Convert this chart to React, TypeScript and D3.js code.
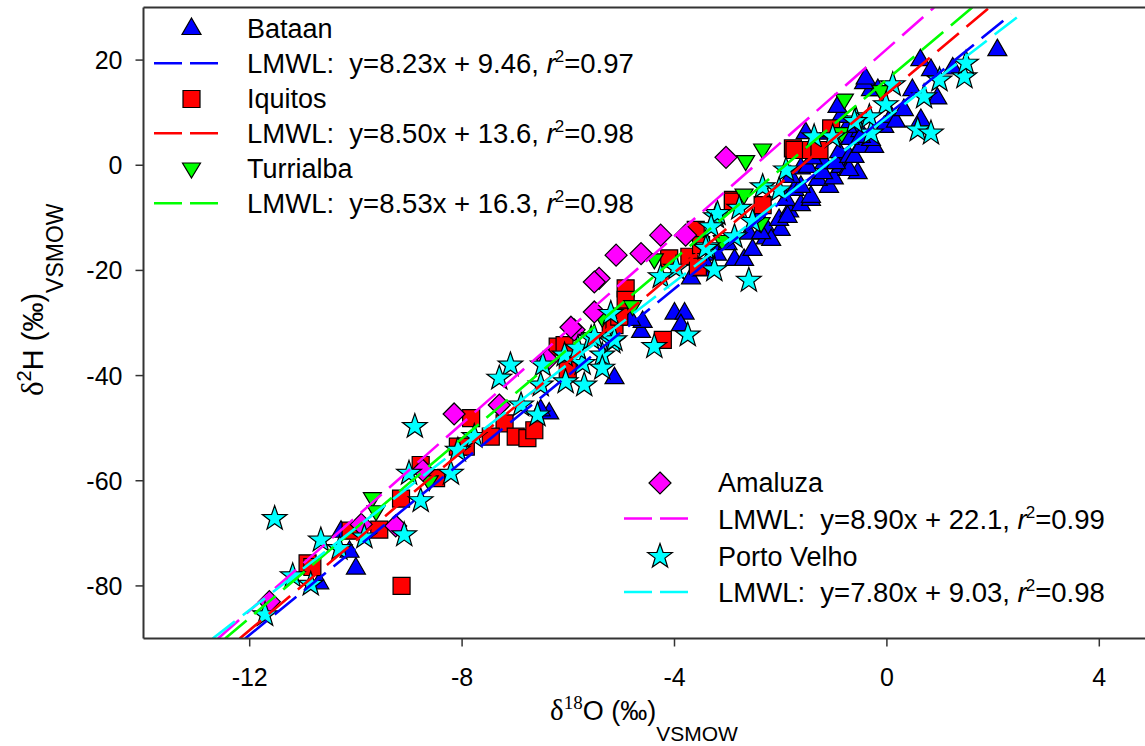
import React from "react";
import * as d3 from "d3";

// ---------- data (δ18O, δ2H) ----------
const bataan: [number, number][] = [
  [-10.0, -76.7], [-10.69, -79.5], [-10.28, -69.7], [-10.12, -73.5],
  [-6.36, -47.2], [-6.52, -46.6], [-5.13, -40.5],
  [-4.63, -31.7], [-4.6, -29.8], [-4.82, -29.4], [-4.0, -28.2], [-3.81, -28.2], [-3.88, -30.4],
  [-3.69, -21.5], [-3.5, -20.0], [-3.2, -17.0], [-3.4, -19.0], [-3.0, -15.0], [-2.87, -18.0],
  [-2.69, -18.0], [-2.53, -16.1], [-2.28, -13.9], [-2.6, -13.0], [-2.4, -10.0], [-2.25, -12.3],
  [-2.0, -12.3], [-2.03, -10.4], [-2.18, -14.2], [-2.37, -12.9],
  [-1.84, -8.8], [-1.87, -9.8], [-1.9, -6.6], [-1.62, -7.6], [-1.43, -6.6], [-1.43, -6.0],
  [-1.74, -4.7], [-1.62, -4.1], [-1.09, -4.1],
  [-1.81, -2.2], [-1.3, -2.8], [-1.0, -2.5], [-1.62, -0.6], [-1.49, -0.3], [-1.2, -1.5],
  [-0.87, -0.3], [-0.74, -0.9], [-0.55, -1.5], [-0.71, -0.9],
  [-1.18, 0.4], [-0.96, 0.4], [-1.4, 1.3], [-1.34, 2.3], [-0.9, 2.5], [-0.71, 1.6], [-0.61, 1.6],
  [-0.49, 3.5], [-0.24, 3.5], [-0.3, 4.8], [-0.7, 5.0], [-1.1, 6.0], [-1.53, 6.1], [-0.5, 6.5],
  [-0.49, 5.4], [-0.74, 7.3], [-0.05, 7.3],
  [-0.87, 9.2], [0.08, 9.2], [0.17, 8.3], [0.64, 8.6], [0.32, 10.5], [-0.93, 11.1],
  [0.95, 12.7], [0.48, 14.3], [-0.3, 14.3], [-0.17, 14.3], [-0.43, 15.6], [-0.4, 16.5],
  [0.63, 20.0], [0.83, 18.1], [1.24, 18.4], [2.08, 21.9],
];

const iquitos: [number, number][] = [
  [-9.14, -80.0], [-10.91, -75.7], [-10.82, -76.4], [-10.1, -69.5], [-9.56, -69.3],
  [-9.15, -63.4], [-8.78, -57.0], [-8.49, -59.5], [-8.08, -53.5], [-7.93, -53.5],
  [-7.83, -48.1], [-7.2, -49.1], [-7.46, -51.6], [-6.99, -51.6], [-6.77, -51.9], [-6.64, -50.4],
  [-6.2, -34.5], [-6.07, -34.2], [-6.01, -39.0], [-5.2, -30.1], [-5.13, -30.4],
  [-4.92, -23.4], [-4.92, -25.6], [-5.04, -28.8], [-4.22, -33.2], [-4.1, -17.7], [-3.72, -17.4],
  [-3.6, -12.3], [-3.5, -15.2], [-3.56, -19.3],
  [-2.9, -6.6], [-2.9, -6.9], [-2.34, -7.6],
  [-1.77, 3.2], [-1.74, 2.9], [-1.43, 2.9], [-1.27, 2.9], [-1.05, 7.0],
];

const turrialba: [number, number][] = [
  [-9.69, -63.4], [-9.62, -65.9], [-8.62, -60.2], [-5.36, -29.1], [-4.79, -26.9],
  [-4.38, -18.0], [-3.1, -14.5], [-2.69, -5.7], [-2.37, -11.1], [-2.66, 0.7],
  [-2.34, 2.9], [-0.8, 12.4], [-0.85, 6.0], [-0.11, 14.0],
];

const amaluza: [number, number][] = [
  [-11.63, -83.0], [-9.9, -68.3], [-9.25, -68.6], [-8.74, -58.0], [-8.15, -47.3],
  [-7.3, -45.6], [-6.39, -37.0], [-5.89, -31.3], [-5.95, -30.8], [-5.51, -27.9],
  [-5.42, -21.5], [-5.51, -22.2], [-5.1, -17.1], [-4.63, -16.8], [-4.26, -13.3],
  [-3.79, -13.3], [-3.03, 1.5],
];

const portoVelho: [number, number][] = [
  [-8.89, -49.7], [-11.53, -67.2], [-11.71, -85.5], [-11.19, -78.1], [-10.85, -79.7],
  [-10.66, -71.3], [-10.31, -72.9], [-9.84, -70.7], [-9.09, -70.3], [-8.78, -63.8],
  [-9.0, -58.6], [-8.21, -58.6], [-8.08, -54.2],
  [-7.09, -38.0], [-7.3, -40.5], [-6.89, -45.6], [-6.58, -47.5], [-7.77, -51.6],
  [-6.48, -38.0], [-6.52, -41.8], [-6.05, -41.2], [-5.7, -41.8], [-5.73, -37.7],
  [-6.07, -36.1], [-5.82, -34.8], [-5.57, -32.9], [-5.36, -36.1], [-5.36, -38.6],
  [-5.17, -33.6], [-5.2, -28.2],
  [-5.51, -32.6], [-5.13, -33.2], [-4.38, -34.5], [-3.75, -32.3], [-3.97, -19.6],
  [-4.26, -21.2], [-3.38, -15.5], [-3.25, -19.9], [-3.22, -9.8], [-2.87, -13.6], [-2.6, -21.9],
  [-1.9, -0.9], [-2.34, -4.1], [-2.03, -4.7], [-1.37, 5.4], [-1.02, 5.4], [-0.58, 8.6],
  [-0.3, 6.1], [-3.19, -9.2], [-2.78, -8.2], [-2.53, -10.7], [-3.31, -11.7], [-3.41, -15.8],
  [0.11, 15.3], [0.99, 16.2], [1.46, 16.8], [1.49, 19.4], [0.7, 13.0], [-0.02, 11.5],
  [-0.33, 9.2], [-0.61, 8.3], [0.58, 6.7], [0.83, 6.1],
];

// LMWL fits: slope, intercept, r², end of line (δ18O)
const fitNames = ["Bataan", "Iquitos", "Turrialba", "Amaluza", "Porto Velho"];
const fitSlopes = [8.23, 8.5, 8.53, 8.9, 7.8];
const fitIntercepts = [9.46, 13.6, 16.3, 22.1, 9.03];
const fitR2 = ["0.97", "0.98", "0.98", "0.99", "0.98"];
const fitLabels = ["8.23x + 9.46", "8.50x + 13.6", "8.53x + 16.3", "8.90x + 22.1", "7.80x + 9.03"];
const fitXEnd = [2.34, 3, 3, 3, 2.5];

const xTicks = [-12, -8, -4, 0, 4];
const yTicks = [-80, -60, -40, -20, 0, 20];

const colors = ["#0000FF", "#FF0000", "#00FF00", "#FF00FF", "#00FFFF"];
const seriesData = [bataan, iquitos, turrialba, amaluza, portoVelho];

// ---------- layout ----------
const W = 1145, H = 746;
const L = 143.5, T = 7.5, B = 638.5;
const x = d3.scaleLinear().domain([-14, 5]).range([L, L + 19 * 53.1]);
const y = d3.scaleLinear().domain([-90, 30]).range([B, T]);

const ARIAL = "'Liberation Sans', Arial, Helvetica, sans-serif";
const TIMES = "'Liberation Serif', 'Times New Roman', serif";

function starPath(R: number, r: number) {
  const pts: string[] = [];
  for (let k = 0; k < 10; k++) {
    const a = (-90 + k * 36) * Math.PI / 180;
    const rr = k % 2 === 0 ? R : r;
    pts.push(`${(rr * Math.cos(a)).toFixed(2)},${(rr * Math.sin(a)).toFixed(2)}`);
  }
  return "M" + pts.join("L") + "Z";
}
const shapes = [
  "M0,-11L9.5,5.5L-9.5,5.5Z",
  "M-8.5,-8.5H8.5V8.5H-8.5Z",
  "M0,9L9,-6L-9,-6Z",
  "M0,-11L11,0L0,11L-11,0Z",
  starPath(13, 5.2),
];

function Marker({ i, cx, cy }: { i: number; cx: number; cy: number }) {
  return (
    <path d={shapes[i]} transform={`translate(${cx},${cy})`} fill={colors[i]} stroke="#000" strokeWidth={1.2} />
  );
}

function LmwlText({ i, tx, ty }: { i: number; tx: number; ty: number }) {
  return (
    <text x={tx} y={ty} fontFamily={ARIAL} fontSize={27.5} fill="#000" style={{ whiteSpace: "pre" }}>
      {`LMWL:  y=${fitLabels[i]}, `}
      <tspan fontStyle="italic">r</tspan>
      <tspan fontSize={17} dy={-11} dx={-1}>2</tspan>
      <tspan dy={11}>{`=${fitR2[i]}`}</tspan>
    </text>
  );
}

export default function App() {
  const lineGen = d3.line<[number, number]>().x(d => x(d[0])).y(d => y(d[1]));
  const fitLines = fitSlopes.map((m, i) => {
    const b = fitIntercepts[i];
    const x0 = (-90 - b) / m;
    const x1 = Math.min(fitXEnd[i], (30 - b) / m);
    return lineGen([[x0, m * x0 + b], [x1, m * x1 + b]]);
  });

  const leftRows = [0, 1, 2];
  const rightRows = [3, 4];

  return (
    <svg width={W} height={H} style={{ position: "absolute", left: 0, top: 0, background: "#fff" }}>
      <defs>
        <clipPath id="plotClip">
          <rect x={L} y={T} width={W - L} height={B - T} />
        </clipPath>
      </defs>

      {/* scatter */}
      {seriesData.map((pts, i) => (
        <g key={"s" + i}>
          {pts.map((p, j) => <Marker key={j} i={i} cx={x(p[0])} cy={y(p[1])} />)}
        </g>
      ))}

      {/* fit lines */}
      <g clipPath="url(#plotClip)">
        {fitLines.map((d, i) => (
          <path key={"f" + i} d={d || ""} fill="none" stroke={colors[i]} strokeWidth={2.6} strokeDasharray="28 10" />
        ))}
      </g>

      {/* axes frame */}
      <line x1={L} x2={L} y1={T} y2={B} stroke="#333" strokeWidth={2} />
      <line x1={L} x2={W} y1={B} y2={B} stroke="#333" strokeWidth={2} />
      <line x1={L} x2={W} y1={T} y2={T} stroke="#333" strokeWidth={2} />

      {/* y ticks */}
      {yTicks.map(t => (
        <g key={"yt" + t}>
          <line x1={L - 8} x2={L} y1={y(t)} y2={y(t)} stroke="#333" strokeWidth={1.5} />
          <text x={L - 21} y={y(t) + 9} textAnchor="end" fontFamily={ARIAL} fontSize={25}>{t}</text>
        </g>
      ))}
      {/* x ticks */}
      {xTicks.map(t => (
        <g key={"xt" + t}>
          <line x1={x(t)} x2={x(t)} y1={B} y2={B + 8} stroke="#333" strokeWidth={1.5} />
          <text x={x(t)} y={B + 47} textAnchor="middle" fontFamily={ARIAL} fontSize={25}>{t}</text>
        </g>
      ))}

      {/* axis titles */}
      <text x={550} y={720} fontFamily={ARIAL} fontSize={27}>
        <tspan fontFamily={TIMES} fontSize={29}>δ</tspan>
        <tspan fontFamily={TIMES} fontSize={19} dy={-11}>18</tspan>
        <tspan dy={11}>O (‰)</tspan>
        <tspan fontSize={21} dy={21}>VSMOW</tspan>
      </text>
      <text transform="translate(43,396) rotate(-90)" fontFamily={ARIAL} fontSize={29}>
        <tspan fontFamily={TIMES} fontSize={31}>δ</tspan>
        <tspan fontSize={20} dy={-12}>2</tspan>
        <tspan dy={12}>H (‰)</tspan>
        <tspan fontSize={23} dy={20}>VSMOW</tspan>
      </text>

      {/* upper-left legend */}
      {leftRows.map(i => {
        const base = 37.5 + i * 70;
        return (
          <g key={"ll" + i}>
            <Marker i={i} cx={191.5} cy={base - 8.5} />
            <text x={247} y={base} fontFamily={ARIAL} fontSize={27}>{fitNames[i]}</text>
            <line x1={154} x2={218} y1={base + 25.8} y2={base + 25.8} stroke={colors[i]} strokeWidth={2.6} strokeDasharray="28 8" />
            <LmwlText i={i} tx={247} ty={base + 35} />
          </g>
        );
      })}

      {/* lower-right legend */}
      {rightRows.map((i, k) => {
        const base = 492 + k * 73.5;
        return (
          <g key={"lr" + i}>
            <Marker i={i} cx={660} cy={base - 9} />
            <text x={718} y={base} fontFamily={ARIAL} fontSize={27}>{fitNames[i]}</text>
            <line x1={624} x2={688} y1={base + 26.5} y2={base + 26.5} stroke={colors[i]} strokeWidth={2.6} strokeDasharray="28 8" />
            <LmwlText i={i} tx={718} ty={base + 36.5} />
          </g>
        );
      })}
    </svg>
  );
}
